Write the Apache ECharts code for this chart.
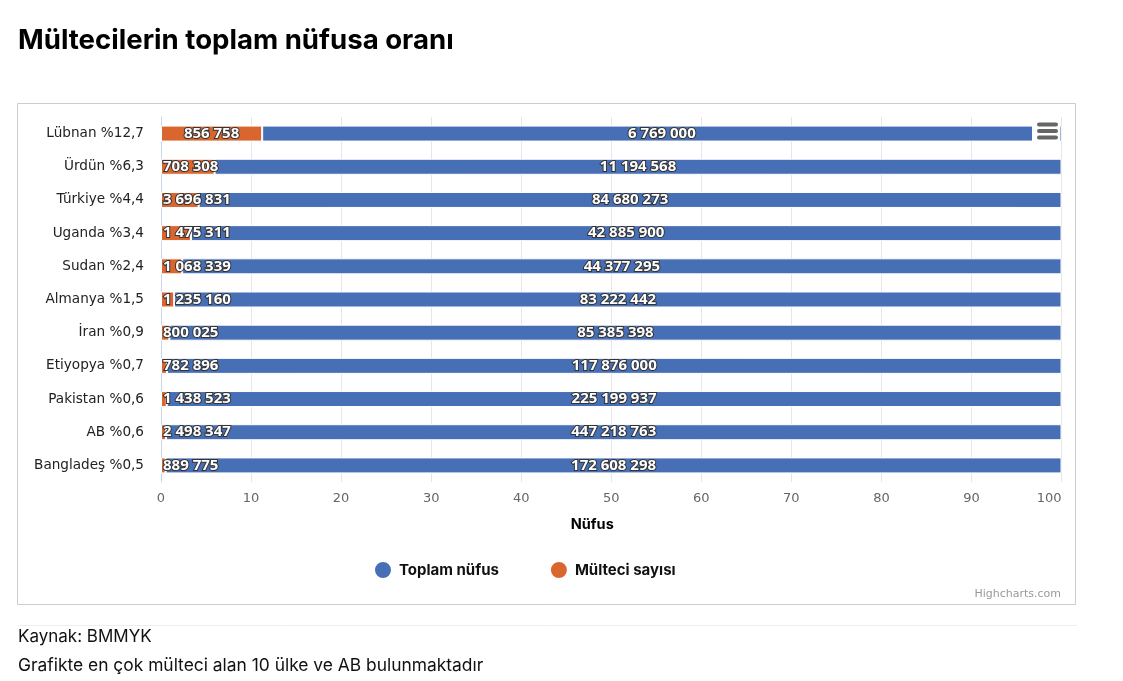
<!DOCTYPE html>
<html>
<head>
<meta charset="utf-8">
<style>
  html, body { margin: 0; padding: 0; background: #fff; }
  #main { width: 1123px; height: 681px; }
</style>
<script src="https://cdn.jsdelivr.net/npm/echarts@6/dist/echarts.min.js"></script>
</head>
<body>
<div id="main"></div>
<script>
var categories = ['Lübnan %12,7', 'Ürdün %6,3', 'Türkiye %4,4', 'Uganda %3,4', 'Sudan %2,4', 'Almanya %1,5', 'İran %0,9', 'Etiyopya %0,7', 'Pakistan %0,6', 'AB %0,6', 'Bangladeş %0,5'];
var refugees = [856758, 708308, 3696831, 1475311, 1068339, 1235160, 800025, 782896, 1438523, 2498347, 889775];
var population = [6769000, 11194568, 84680273, 42885900, 44377295, 83222442, 85385398, 117876000, 225199937, 447218763, 172608298];

var BLUE = '#476fb5';
var ORANGE = '#d9652f';
var UI_FONT = 'Inter, "Noto Sans", sans-serif';
var AXIS_FONT = '"DejaVu Sans", sans-serif';

// percent stacking, the raw number stays on the point for the label
function shares(values) {
  return values.map(function (v, i) {
    return { value: v / (refugees[i] + population[i]) * 100, raw: v };
  });
}

function spaced(n) {
  return String(n).replace(/\B(?=(\d{3})+$)/g, ' ');
}

var barLabel = {
  show: true,
  position: 'inside',
  color: '#fff',
  fontFamily: '"Open Sans", sans-serif',
  fontWeight: 'bold',
  fontSize: 15,
  textBorderColor: '#333',
  textBorderWidth: 2,
  formatter: function (p) { return spaced(p.data.raw); }
};

var myChart = echarts.init(document.getElementById('main'));

var option = {
  animation: false,
  title: {
    text: 'Mültecilerin toplam nüfusa oranı',
    left: 13,
    top: 22,
    textStyle: { fontFamily: UI_FONT, fontWeight: 'bold', fontSize: 27.6, color: '#000' }
  },
  grid: { left: 161, right: 61.5, top: 117, bottom: 199 },
  legend: {
    data: ['Toplam nüfus', 'Mülteci sayısı'],
    left: 368,
    top: 555,
    icon: 'circle',
    itemWidth: 18,
    itemHeight: 18,
    itemGap: 50,
    textStyle: { fontFamily: UI_FONT, fontWeight: 'bold', fontSize: 15, color: '#111', padding: [0, 0, 0, 2] }
  },
  xAxis: {
    type: 'value',
    min: 0,
    max: 100,
    interval: 10,
    name: 'Nüfus',
    nameLocation: 'middle',
    nameGap: 35,
    nameTextStyle: { fontFamily: UI_FONT, fontWeight: 'bold', fontSize: 14.5, color: '#000', padding: [0, 38, 0, 0] },
    axisLine: { show: false },
    axisTick: { show: false },
    axisLabel: { fontFamily: AXIS_FONT, fontSize: 13, color: '#666', margin: 10, alignMaxLabel: 'right' },
    splitLine: { lineStyle: { color: '#e6e6e6', width: 1 } }
  },
  yAxis: {
    type: 'category',
    inverse: true,
    data: categories,
    axisLine: { lineStyle: { color: '#ccd6eb' } },
    axisTick: { show: false },
    axisLabel: { fontFamily: AXIS_FONT, fontSize: 13.6, color: '#222', margin: 17 }
  },
  series: [
    {
      name: 'Mülteci sayısı',
      type: 'bar',
      stack: 'total',
      barWidth: 16,
      data: shares(refugees),
      itemStyle: { color: ORANGE, borderColor: '#fff', borderWidth: 1 },
      label: barLabel,
      // keep wide labels inside the plot like the original
      labelLayout: function (p) {
        return p.labelRect.x < 162 ? { dx: 162 - p.labelRect.x } : {};
      }
    },
    {
      name: 'Toplam nüfus',
      type: 'bar',
      stack: 'total',
      barWidth: 16,
      data: shares(population),
      itemStyle: { color: BLUE, borderColor: '#fff', borderWidth: 1 },
      label: barLabel
    }
  ],
  graphic: [
    // chart frame
    { type: 'rect', z: -1, shape: { x: 17.5, y: 103.5, width: 1058, height: 501 }, style: { fill: '#fff', stroke: '#cccccc', lineWidth: 1 } },
    // export button sits over the first bar
    { type: 'rect', z: 100, shape: { x: 1032, y: 122, width: 28, height: 22 }, style: { fill: '#fff' } },
    { type: 'rect', z: 101, shape: { x: 1037, y: 122.5, width: 21, height: 4, r: 2 }, style: { fill: '#666' } },
    { type: 'rect', z: 101, shape: { x: 1037, y: 129, width: 21, height: 4, r: 2 }, style: { fill: '#666' } },
    { type: 'rect', z: 101, shape: { x: 1037, y: 135.5, width: 21, height: 4, r: 2 }, style: { fill: '#666' } },
    { type: 'text', z: 101, style: { x: 1061, y: 594, text: 'Highcharts.com', textAlign: 'right', textVerticalAlign: 'middle', fontFamily: AXIS_FONT, fontSize: 11, fill: '#999' } },
    // footer
    { type: 'line', shape: { x1: 18, y1: 625.5, x2: 1077, y2: 625.5 }, style: { stroke: '#eeeeee', lineWidth: 1 } },
    { type: 'text', style: { x: 18, y: 637, text: 'Kaynak: BMMYK', textVerticalAlign: 'middle', fontFamily: UI_FONT, fontSize: 17, fill: '#111' } },
    { type: 'text', style: { x: 18, y: 666, text: 'Grafikte en çok mülteci alan 10 ülke ve AB bulunmaktadır', textVerticalAlign: 'middle', fontFamily: UI_FONT, fontSize: 17.4, fill: '#111' } }
  ]
};

option && myChart.setOption(option);
</script>
</body>
</html>
